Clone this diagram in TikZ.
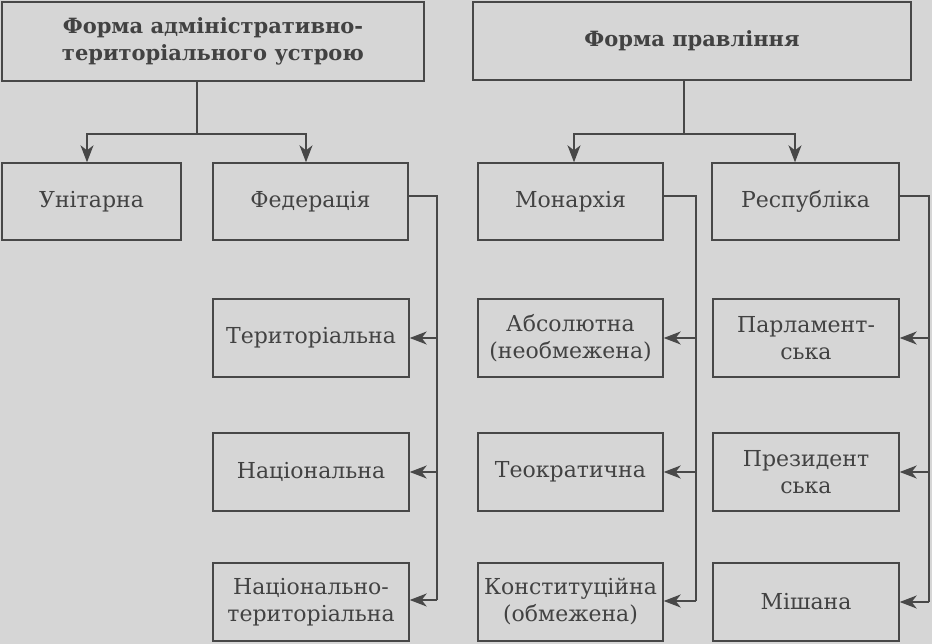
\documentclass[tikz,border=0pt]{standalone}
\usepackage{fontspec}
\setmainfont{DejaVu Serif}
\usetikzlibrary{arrows.meta}
\definecolor{bg}{RGB}{214,214,214}
\definecolor{ink}{RGB}{72,72,72}
\definecolor{txt}{RGB}{66,66,66}
\begin{document}
\begin{tikzpicture}[x=1pt,y=-1pt,
  box/.style={draw=ink,line width=1.4pt,rectangle,inner sep=0pt,align=center,
    text=txt,font=\fontsize{22}{27}\selectfont},
  topbox/.style={box,font=\fontsize{21}{27}\selectfont\bfseries},
  link/.style={draw=ink,line width=1.4pt},
  arr/.style={link,-{Stealth[length=17pt,width=13pt,inset=5pt]}}]
\fill[bg] (0,0) rectangle (932,644);
\useasboundingbox (0,0) rectangle (932,644);
% top boxes
\node[topbox,minimum width=422pt,minimum height=79pt] (t1) at (213,41.5) {Форма адміністративно-\\територіального устрою};
\node[topbox,minimum width=438pt,minimum height=78pt] (t2) at (692,41) {Форма правління};
% second level
\node[box,minimum width=179pt,minimum height=77pt] (unit) at (91.5,201.5) {Унітарна};
\node[box,minimum width=195pt,minimum height=77pt] (fed) at (310.5,201.5) {Федерація};
\node[box,minimum width=185pt,minimum height=77pt] (mon) at (570.5,201.5) {Монархія};
\node[box,minimum width=187pt,minimum height=77pt] (resp) at (805.5,201.5) {Республіка};
% column 1
\node[box,minimum width=196pt,minimum height=78pt] (ter) at (311,338) {Територіальна};
\node[box,minimum width=196pt,minimum height=78pt] (nat) at (311,472) {Національна};
\node[box,minimum width=196pt,minimum height=78pt] (natter) at (311,602) {Національно-\\територіальна};
% column 2
\node[box,minimum width=185pt,minimum height=78pt] (abs) at (570.5,338) {Абсолютна\\(необмежена)};
\node[box,minimum width=185pt,minimum height=78pt] (teo) at (570.5,472) {Теократична};
\node[box,minimum width=185pt,minimum height=78pt] (kon) at (570.5,602) {Конституційна\\(обмежена)};
% column 3
\node[box,minimum width=186pt,minimum height=78pt] (parl) at (806,338) {Парламент-\\ська};
\node[box,minimum width=186pt,minimum height=78pt] (prez) at (806,472) {Президент\\ська};
\node[box,minimum width=186pt,minimum height=78pt] (mish) at (806,602) {Мішана};
% tree connectors
\coordinate (j1) at (197,134);
\coordinate (j2) at (684,134);
\draw[link] (t1.south -| j1) -- (j1);
\draw[arr] (j1) -| ([xshift=-4.5pt]unit.north);
\draw[arr] (j1) -| ([xshift=-4.5pt]fed.north);
\draw[link] (t2.south -| j2) -- (j2);
\draw[arr] (j2) -| ([xshift=3.5pt]mon.north);
\draw[arr] (j2) -| ([xshift=-10.5pt]resp.north);
% side buses
\coordinate (b1) at (437,600);
\coordinate (b2) at (696,601);
\coordinate (b3) at (929,602);
\draw[link] ([yshift=5.5pt]fed.east) -| (b1);
\draw[arr] (ter.east -| b1) -- (ter.east);
\draw[arr] (nat.east -| b1) -- (nat.east);
\draw[arr] (b1) -- (b1 -| natter.east);
\draw[link] ([yshift=5.5pt]mon.east) -| (b2);
\draw[arr] (abs.east -| b2) -- (abs.east);
\draw[arr] (teo.east -| b2) -- (teo.east);
\draw[arr] (b2) -- (b2 -| kon.east);
\draw[link] ([yshift=5.5pt]resp.east) -| (b3);
\draw[arr] (parl.east -| b3) -- (parl.east);
\draw[arr] (prez.east -| b3) -- (prez.east);
\draw[arr] (b3) -- (b3 -| mish.east);
\end{tikzpicture}
\end{document}
